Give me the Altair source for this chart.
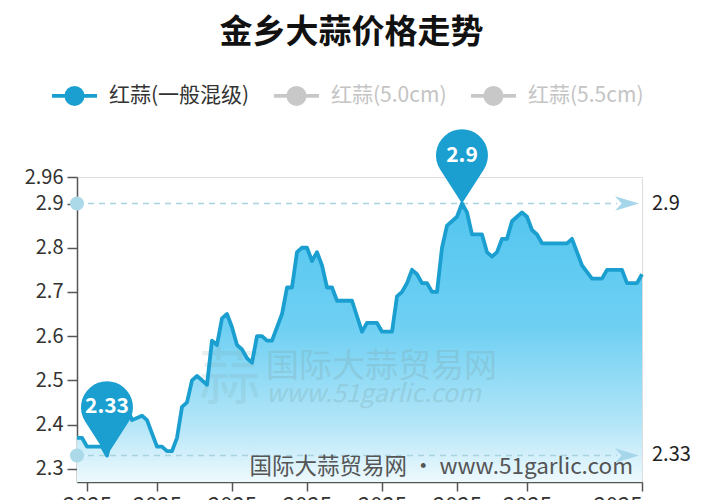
import json
import altair as alt
import pandas as pd

title_text = "金乡大蒜价格走势"
series_names = ["红蒜(一般混级)", "红蒜(5.0cm)", "红蒜(5.5cm)"]
series_colors = ["#1a9fd0", "#c8c8c8", "#c8c8c8"]

# day index along the x axis and price (yuan)
days = [0, 1, 2, 5, 6, 7, 9, 10, 11, 13, 14, 16, 17, 18, 19, 20, 21, 22, 23, 24,
        26, 27, 28, 29, 30, 31, 32, 33, 34, 35, 36, 37, 38, 39, 41, 42, 43, 44, 45, 46,
        47, 48, 49, 50, 51, 52, 55, 57, 58, 60, 61, 63, 64, 65, 66, 67, 68, 69, 70, 71,
        72, 73, 74, 75, 76, 77, 78, 79, 81, 82, 83, 84, 85, 86, 87, 88, 89, 90, 91, 92,
        93, 98, 99, 101, 103, 105, 106, 109, 110, 112, 113]
prices = [2.37, 2.37, 2.35, 2.35, 2.33, 2.38, 2.44, 2.44, 2.41, 2.42, 2.41, 2.35, 2.35, 2.34, 2.34, 2.37, 2.44, 2.45, 2.50, 2.51,
          2.49, 2.59, 2.58, 2.64, 2.65, 2.62, 2.58, 2.57, 2.55, 2.54, 2.60, 2.60, 2.59, 2.59, 2.65, 2.71, 2.71, 2.79, 2.80, 2.80,
          2.77, 2.79, 2.76, 2.71, 2.71, 2.68, 2.68, 2.61, 2.63, 2.63, 2.61, 2.61, 2.69, 2.70, 2.72, 2.75, 2.74, 2.72, 2.72, 2.70,
          2.70, 2.80, 2.85, 2.86, 2.87, 2.90, 2.88, 2.83, 2.83, 2.79, 2.78, 2.79, 2.82, 2.82, 2.86, 2.87, 2.88, 2.87, 2.84, 2.83,
          2.81, 2.81, 2.82, 2.76, 2.73, 2.73, 2.75, 2.75, 2.72, 2.72, 2.74]

x_ticks = [2, 16, 31, 46, 61, 76, 90, 113]
x_tick_labels = ["2025", "2025", "2025", "2025", "2025", "2025", "2025", "2025"]
y_ticks = [2.3, 2.4, 2.5, 2.6, 2.7, 2.8, 2.9, 2.96]
Y_MIN, Y_MAX = 2.27, 2.96
X_MAX = 113

ref_values = [2.9, 2.33]
ref_labels = ["2.9", "2.33"]
pin_days = [6, 77]
pin_values = [2.33, 2.9]
pin_labels = ["2.33", "2.9"]

FONT = "Noto Sans CJK SC"
PIN = "M0,0 L-0.84,-1.31 A1,1 0 1,1 0.84,-1.31 Z"
ARROW = "M-1,-0.6 L1,0 L-1,0.6 L-0.45,0 Z"
LEGEND_SYMBOL = "M-1,0 L1,0 M-0.36,0 A0.36,0.36 0 1,0 0.36,0 A0.36,0.36 0 1,0 -0.36,0 Z"

df = pd.DataFrame({"day": days, "price": prices, "series": series_names[0]})
refs = pd.DataFrame({"value": ref_values, "label": ref_labels})
pins = pd.DataFrame({"day": pin_days, "value": pin_values, "label": pin_labels})

x_enc = alt.X("day:Q", scale=alt.Scale(domain=[0, X_MAX], nice=False),
              axis=alt.Axis(values=x_ticks, title=None, grid=False,
                            labelExpr=f"{json.dumps(x_tick_labels)}[indexof({json.dumps(x_ticks)}, datum.value)]",
                            labelFontSize=22, labelColor="#333", labelFont=FONT, labelPadding=4,
                            tickSize=9, tickColor="#555", tickWidth=1.5,
                            domainColor="#555", domainWidth=1.5, labelBaseline="top"))
y_scale = alt.Scale(domain=[Y_MIN, Y_MAX], nice=False, zero=False)
y_enc = alt.Y("price:Q", scale=y_scale,
              axis=alt.Axis(values=y_ticks, labelExpr="toString(datum.value)", title=None, grid=False,
                            labelFontSize=20, labelColor="#333", labelFont=FONT, labelOverlap=False,
                            labelPadding=4, tickSize=10, tickColor="#555", tickWidth=1.5,
                            domainColor="#555", domainWidth=1.5))

gradient = alt.Gradient(
    gradient="linear",
    stops=[alt.GradientStop(color="#52c5ef", offset=0),
           alt.GradientStop(color="#6fd0f3", offset=0.45),
           alt.GradientStop(color="#b5e6f8", offset=0.8),
           alt.GradientStop(color="#eef9fd", offset=1)],
    x1=0, x2=0, y1=0, y2=1)

base = alt.Chart(df)
area = base.mark_area(fill=gradient).encode(x=x_enc, y=y_enc, y2=alt.datum(Y_MIN))

line = base.mark_line(strokeWidth=3.8, strokeJoin="round").encode(
    x="day:Q", y="price:Q",
    color=alt.Color("series:N",
                    scale=alt.Scale(domain=series_names, range=series_colors),
                    legend=alt.Legend(orient="none", legendX=-27, legendY=-106, direction="horizontal",
                                      title=None, symbolType=LEGEND_SYMBOL, symbolSize=2025,
                                      symbolStrokeWidth=3.8,
                                      symbolFillColor={"expr": f"datum.value == '{series_names[0]}' ? '{series_colors[0]}' : '{series_colors[1]}'"},
                                      labelColor={"expr": f"datum.value == '{series_names[0]}' ? '#333333' : '#c4c4c4'"},
                                      labelFontSize=21, labelFont=FONT, labelOffset=10,
                                      columnPadding=16)))

refs_base = alt.Chart(refs)
ref_rules = refs_base.mark_rule(color="#a6d3df", strokeWidth=1.5, strokeDash=[6, 5]).encode(
    x=alt.datum(0), x2=alt.datum(108), y=alt.Y("value:Q", scale=y_scale))
ref_dots = refs_base.mark_point(filled=True, opacity=1, color="#acd9e8", size=200).encode(
    x=alt.datum(0), y="value:Q")
ref_arrows = refs_base.mark_point(filled=True, opacity=1, color="#a6d6ea", size=576, shape=ARROW).encode(
    x=alt.datum(110), y="value:Q")
ref_text = refs_base.mark_text(align="left", baseline="middle", dx=10, fontSize=20, font=FONT, color="#222").encode(
    x=alt.datum(X_MAX), y="value:Q", text="label:N")

pins_base = alt.Chart(pins)
pin_marks = pins_base.mark_point(filled=True, opacity=1, color="#1a9fd0", size=2704, shape=PIN).encode(
    x="day:Q", y=alt.Y("value:Q", scale=y_scale))
pin_text = pins_base.mark_text(dy=-48, fontSize=21, fontWeight="bold", font=FONT, color="white").encode(
    x="day:Q", y="value:Q", text="label:N")

watermark = alt.layer(
    alt.Chart().mark_text(text="蒜", fontSize=62, font=FONT, color="#7fa9ad", opacity=0.18).encode(
        x=alt.datum(30.5), y=alt.datum(2.5)),
    alt.Chart().mark_text(text="国际大蒜贸易网", align="left", fontSize=33, font=FONT, color="#7fa9ad", opacity=0.3).encode(
        x=alt.datum(37.8), y=alt.datum(2.53)),
    alt.Chart().mark_text(text="www.51garlic.com", align="left", fontSize=25, fontStyle="italic", font=FONT,
                          color="#7fa9ad", opacity=0.3).encode(
        x=alt.datum(37.8), y=alt.datum(2.468)),
)
credit = alt.Chart().mark_text(text="国际大蒜贸易网 • www.51garlic.com", align="right", baseline="alphabetic",
                               fontSize=22.5, font=FONT, color="#555").encode(
    x=alt.datum(111.2), y=alt.datum(2.289))

chart = alt.layer(area, watermark, ref_rules, line, ref_dots, ref_arrows, ref_text, credit, pin_marks, pin_text).properties(
    width=565, height=305,
    title=alt.Title(title_text, fontSize=33, fontWeight="bold", font=FONT, color="#111",
                    anchor="middle", dx=-8, offset=21),
    padding={"left": 69, "top": 169, "right": 52, "bottom": 18},
    autosize=alt.AutoSizeParams(type="none"),
).configure_view(stroke=None).configure(background="white")

chart.save("out.html", embed_options={"renderer": "svg", "actions": False})
